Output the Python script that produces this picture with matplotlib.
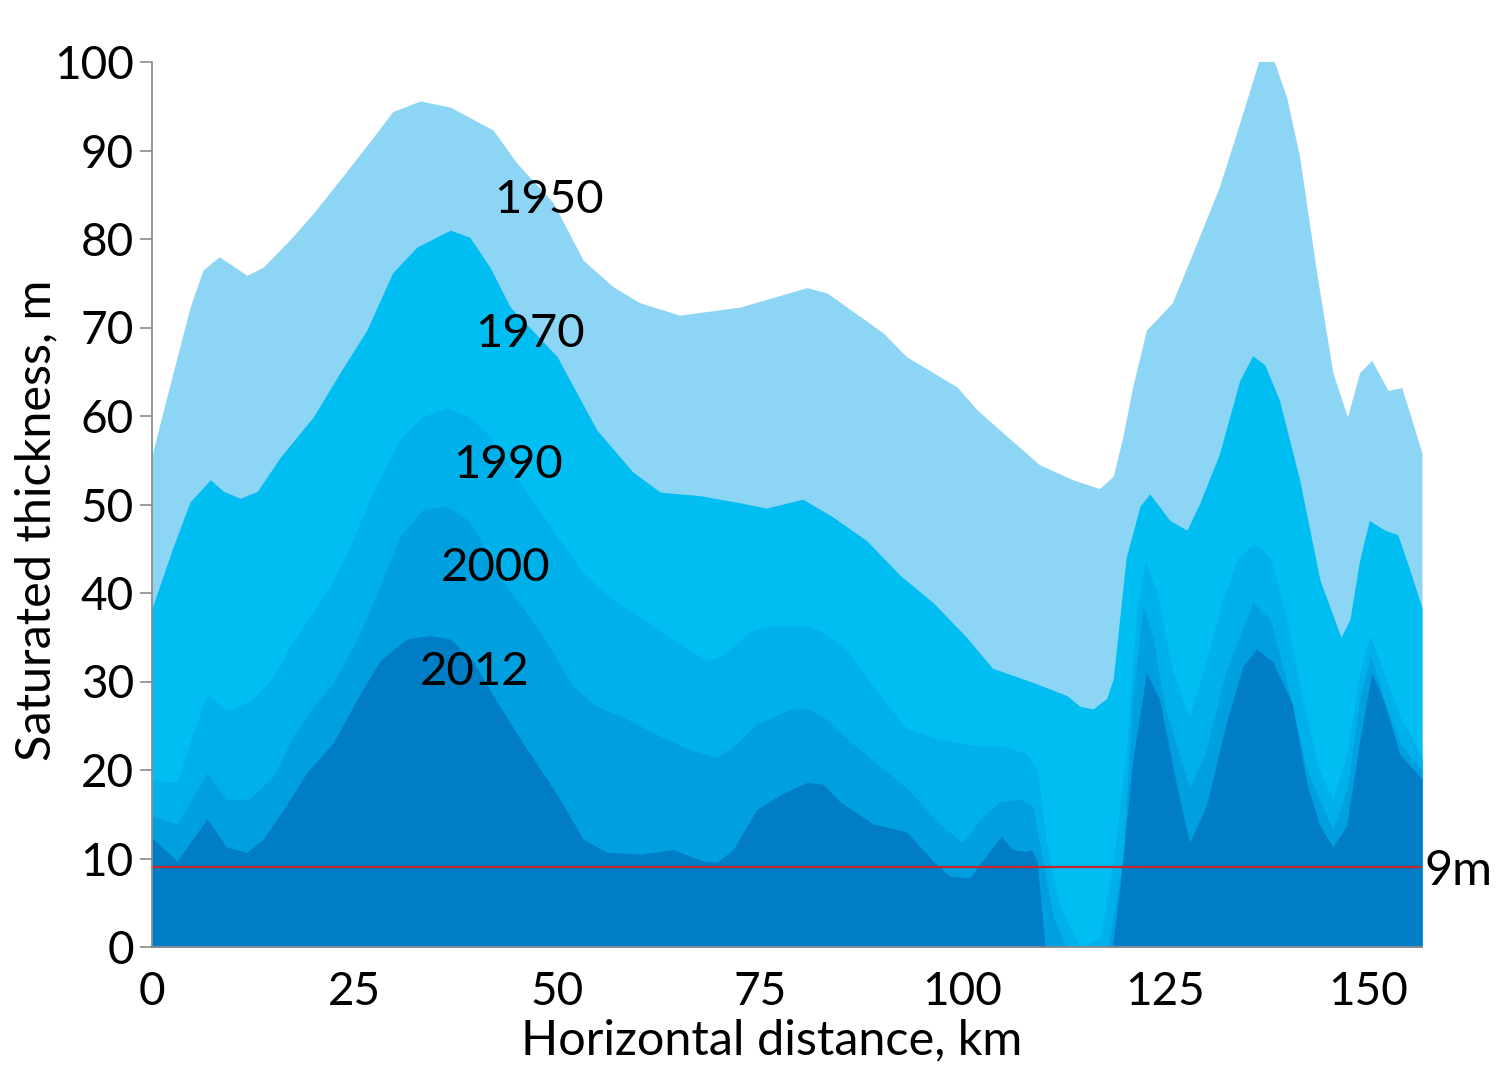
import matplotlib
matplotlib.use("Agg")
import matplotlib.pyplot as plt

plt.rcParams['font.family'] = ['Lato', 'DejaVu Sans']

# profile of saturated thickness along the section, one series per survey year
km_1950 = [0, 2.6, 4.7, 6.3, 8.3, 11.7, 13.7, 17, 19.9, 23.2, 27.3, 29.7, 33.1, 36.8,
           42.1, 45, 49.5, 53.2, 56.9, 60.2, 65.1, 72.5, 80.8, 83.3, 90.2, 93.1, 99.3,
           101.8, 105.5, 109.5, 113.6, 116.9, 118.6, 119.8, 121, 122.7, 125.9, 128.4,
           131.7, 134.2, 136.7, 138.3, 140, 141.6, 143.7, 145.7, 147.5, 149, 150.5,
           152.5, 154.2, 155.2, 156.7]
m_1950 = [55.6, 64.9, 72.3, 76.5, 78, 75.9, 76.8, 79.9, 82.9, 86.7, 91.5, 94.4, 95.6, 94.9,
          92.3, 88.6, 84.1, 77.6, 74.6, 72.8, 71.4, 72.3, 74.5, 73.9, 69.4, 66.7, 63.3,
          60.7, 57.7, 54.5, 52.8, 51.8, 53.2, 57.7, 63.3, 69.7, 72.8, 78.4,
          85.9, 93.1, 100.5, 100.5, 96, 89.3, 76.2, 64.9, 59.9, 64.9, 66.3,
          62.9, 63.2, 60.3, 55.8]

km_1970 = [0, 2.6, 4.7, 7.2, 8.8, 10.9, 13, 15.8, 19.9, 23.2, 26.5, 29.7, 32.7, 36.8,
           39.2, 41.7, 44.2, 50, 52, 54.9, 59.3, 62.7, 67.6, 72.5, 75.8, 80.3, 84, 88.2,
           92.3, 96.4, 100.5, 103.7, 108.7, 112.9, 114.5, 116.1, 117.8, 118.6, 120.2,
           121.9, 123.1, 125.6, 127.7, 129.3, 131.7, 134.2, 135.8, 137.3, 139.1, 141.6,
           144.1, 146.7, 147.8, 149, 150.2, 152.1, 153.7, 155.2, 156.7]
m_1970 = [38.3, 45.2, 50.3, 52.8, 51.5, 50.7, 51.5, 55.3, 59.9, 64.9, 69.7, 76.2, 79.1, 81,
          80.2, 76.8, 72.3, 66.7, 63.3, 58.4, 53.7, 51.4, 51, 50.2, 49.6, 50.6, 48.6, 45.9,
          42, 38.9, 35, 31.5, 29.9, 28.4, 27.2, 26.9, 28.1, 30.3, 44,
          49.8, 51.2, 48.2, 47.1, 50.2, 55.7, 64, 66.8, 65.8, 61.8, 52.8,
          41.5, 35, 37, 43.7, 48.2, 47.1, 46.6, 42.6, 38.3]

km_1990 = [0, 3.1, 5, 6.8, 9.2, 12.1, 15, 17, 19.1, 22, 24.4, 27.3, 30.6, 33.4, 36.4,
           39.2, 41.7, 45.8, 50, 53.2, 56.1, 60.2, 64.3, 68.5, 70.5, 73.8, 76.6, 80.8,
           82.8, 85.7, 89, 93.1, 97.2, 101.3, 105.5, 107.9, 109.2, 110.4, 112, 114.5,
           117, 118.6, 120.2, 121.5, 122.6, 124, 126, 128, 130, 132, 134, 136, 138, 140,
           142, 144, 145.7, 147.5, 149, 150.3, 152, 154, 156.7]
m_1990 = [18.9, 18.6, 24, 28.5, 26.8, 27.7, 30.6, 33.9, 36.8, 40.7, 45.2, 51.5, 57.4, 59.9, 60.9,
          59.9, 57.7, 52, 46.4, 42.3, 39.8, 37.3, 34.8, 32.3, 33.1, 35.6, 36.3, 36.3,
          35.6, 33.6, 29.4, 24.7, 23.5, 22.8, 22.6, 21.8, 20.1, 11.8, 4.6, 0,
          1, 9.7, 22, 38, 43.5, 40, 31, 26, 32, 39, 44, 45.6, 44, 37,
          28, 20, 16.7, 22, 31, 35.2, 31, 26, 21.5]

km_2000 = [0, 3.1, 6.8, 9.2, 12, 15, 17.4, 19.9, 22.3, 25.3, 28.1, 30.6, 33.4, 36.4, 39.2,
           43.8, 47.9, 52, 54.9, 58.1, 62.3, 66.4, 69.7, 71.7, 74.6, 78.7, 80.8, 82.8,
           85.2, 89, 93.1, 97.2, 100, 102.5, 104.6, 107.1, 108.7, 109.5, 111.2, 112.8,
           118, 119.8, 121, 122.3, 123.5, 125, 128, 130, 132.5, 135.8, 138, 140, 142.5,
           145.7, 147.5, 149, 150.4, 152, 154, 156.7]
m_2000 = [14.7, 13.9, 19.7, 16.7, 16.7, 19.3, 23.8, 27.2, 29.7, 34.8, 40.7, 46.4, 49.4, 49.8, 48.1,
          40.7, 35.6, 29.4, 27.2, 26, 24, 22.3, 21.4, 22.6, 25.2, 26.8, 27, 26,
          24, 21, 18, 13.9, 11.8, 14.7, 16.4, 16.7, 15.9, 11.8, 3.4, 0,
          0, 10, 28, 38.5, 35, 27, 18, 22, 31, 39, 37, 30, 20,
          13.2, 18, 28, 33, 28, 23, 20]

km_2012 = [0, 1, 3.1, 6.8, 9.2, 11.7, 13.7, 16.2, 19.1, 22.3, 25.3, 28.1, 31.4, 34.3, 36.8,
           39.6, 42.1, 45.8, 50, 53.2, 56.1, 60.2, 64.3, 68, 69.7, 71.7, 74.6, 77.5, 80.8,
           82.8, 84.9, 89, 93.1, 96.4, 98.4, 100.9, 102.1, 104.8, 106.2, 107.9, 108.5,
           109.2, 110.2, 118.5, 119.4, 121, 122.7, 124.3, 126.4, 128, 130.1, 132.6, 134.6,
           136.3, 138.3, 140.7, 142.5, 144.1, 145.7, 147.4, 149, 150.5, 151.9, 154, 156.7]
m_2012 = [12.3, 11.5, 9.7, 14.5, 11.3, 10.7, 12.2, 15.5, 19.7, 23, 28, 32.3, 34.8, 35.2, 34.8,
          32.3, 28.4, 23, 17.2, 12.2, 10.7, 10.5, 11, 9.7, 9.6, 11, 15.5, 17.2, 18.6,
          18.4, 16.4, 13.9, 13, 9.7, 8, 7.8, 9.3, 12.5, 11, 10.8, 11,
          9.7, 0, 0, 6.5, 21, 31, 28, 18.4, 11.8, 16, 25.5, 31.7,
          33.7, 32.2, 27.5, 18.4, 13.7, 11.3, 13.7, 23.2, 31, 28, 21.7, 19]

years = ['1950', '1970', '1990', '2000', '2012']
threshold = 9

colors = ['#8dd5f4', '#00bdf2', '#00b0ea', '#009fdf', '#007dc4']
series = [(km_1950, m_1950), (km_1970, m_1970), (km_1990, m_1990),
          (km_2000, m_2000), (km_2012, m_2012)]
# label anchors (km, m) for the year captions
label_pos = [(49.0, 82.9), (46.6, 67.8), (43.9, 53.0), (42.4, 41.4), (39.8, 29.6)]

fig = plt.figure(figsize=(15.11, 10.66), dpi=100)
ax = fig.add_axes([152/1511, 1 - 947/1066, (1422-152)/1511, (947-62)/1066])

for (xs, ys), c in zip(series, colors):
    ax.fill_between(xs, 0, ys, color=c, linewidth=0, zorder=1)

ax.axhline(threshold, color='#c4262e', linewidth=1.6, zorder=3)
ax.text(157.0, 7.0, '%dm' % threshold, fontsize=35, ha='left', va='baseline',
        clip_on=False)

for yr, (x, y) in zip(years, label_pos):
    ax.text(x, y, yr, fontsize=34, ha='center', va='baseline', zorder=4)

ax.set_xlim(0, 156.7)
ax.set_ylim(0, 100)
ax.set_xticks([0, 25, 50, 75, 100, 125, 150])
ax.set_yticks(range(0, 101, 10))
ax.tick_params(axis='y', direction='out', length=9, width=1.2, color='#8c8c8c',
               labelsize=33, pad=4)
ax.tick_params(axis='x', length=0, labelsize=33, pad=17)

for side in ['top', 'right']:
    ax.spines[side].set_visible(False)
for side in ['left', 'bottom']:
    ax.spines[side].set_color('#8c8c8c')
    ax.spines[side].set_linewidth(1.3)
    ax.spines[side].set_zorder(5)

fig.text(772/1511, 1 - 1040/1066, 'Horizontal distance, km', fontsize=35,
         ha='center', va='center')
fig.text(36/1511, 1 - 520/1066, 'Saturated thickness, m', fontsize=35,
         ha='center', va='center', rotation=90)

fig.savefig('out.png', dpi=100)
